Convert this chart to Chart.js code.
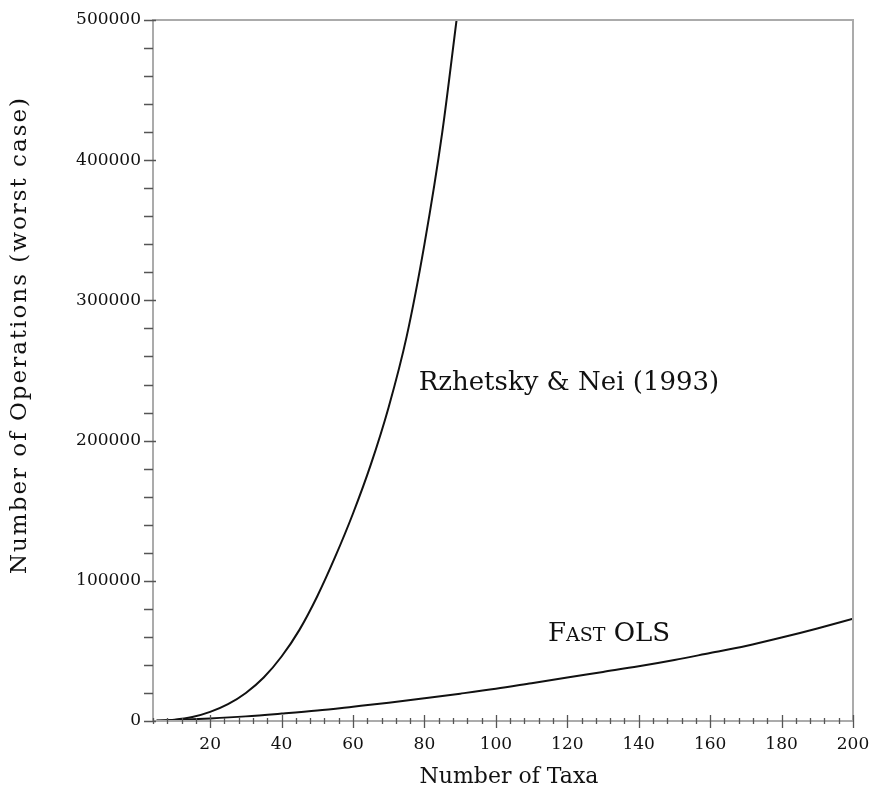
<!DOCTYPE html>
<html>
<head>
<meta charset="utf-8">
<script src="https://cdn.jsdelivr.net/npm/chart.js@4.4.0/dist/chart.umd.min.js"></script>
<style>
  html, body { margin: 0; padding: 0; background: #ffffff; }
  #wrap { width: 872px; height: 792px; }
</style>
</head>
<body>
<div id="wrap"><canvas id="chart" width="872" height="792"></canvas></div>
<script>
// Rzhetsky & Nei (1993), worst case operations
const taxaRN = [5, 10, 15, 20, 25, 30, 35, 40, 45, 50, 55, 60, 65, 70, 75, 80, 85, 89];
const opsRN = [200, 900, 2800, 6500, 12000, 20000, 31000, 46000, 65000, 89000, 117000, 148000, 183000, 224000, 274000, 340000, 420000, 500000];

// Fast OLS, worst case operations
const taxaOLS = [5, 10, 20, 30, 40, 50, 60, 70, 80, 90, 100, 110, 120, 130, 140, 150, 160, 170, 180, 190, 200];
const opsOLS = [300, 700, 1800, 3300, 5300, 7500, 10200, 13000, 16200, 19500, 23000, 27000, 31000, 35000, 39000, 43500, 48500, 53500, 59500, 66000, 73000];

const xTicks = [20, 40, 60, 80, 100, 120, 140, 160, 180, 200];
const yTicks = [0, 100000, 200000, 300000, 400000, 500000];
const xMinorStep = 4;
const yMinorStep = 20000;

const seriesNames = ['Rzhetsky & Nei (1993)', 'Fast OLS'];
const xTitle = 'Number of Taxa';
const yTitle = 'Number of Operations (worst case)';

const SERIF = '"DejaVu Serif", "Liberation Serif", serif';

function toPoints(xs, ys) {
    return xs.map((x, i) => ({ x: x, y: ys[i] }));
}

// frame, crossing ticks, axis titles and curve labels
const decorations = {
    id: 'decorations',
    afterDatasetsDraw(chart) {
        const ctx = chart.ctx;
        const area = chart.chartArea;
        const xs = chart.scales.x;
        const ys = chart.scales.y;

        ctx.save();
        // frame
        ctx.strokeStyle = '#ababab';
        ctx.lineWidth = 2;
        ctx.beginPath();
        ctx.moveTo(area.left, area.top);
        ctx.lineTo(area.right, area.top);
        ctx.lineTo(area.right, area.bottom);
        ctx.lineTo(area.left, area.bottom);
        ctx.closePath();
        ctx.stroke();

        // x ticks
        ctx.strokeStyle = '#555555';
        ctx.lineWidth = 1.3;
        ctx.beginPath();
        for (let v = xs.min; v <= xs.max; v += xMinorStep) {
            const px = Math.round(xs.getPixelForValue(v)) + 0.5;
            const major = xTicks.includes(v);
            ctx.moveTo(px, area.bottom - (major ? 6 : 3));
            ctx.lineTo(px, area.bottom + (major ? 7 : 3));
        }
        // y ticks
        for (let v = ys.min; v <= ys.max; v += yMinorStep) {
            const py = Math.round(ys.getPixelForValue(v)) + 0.5;
            const major = yTicks.includes(v);
            ctx.moveTo(area.left - 9, py);
            ctx.lineTo(area.left + (major ? 3 : 0), py);
        }
        ctx.stroke();

        ctx.fillStyle = '#111111';

        // axis titles
        ctx.textAlign = 'center';
        ctx.textBaseline = 'middle';
        ctx.font = '22px ' + SERIF;
        ctx.fillText(xTitle, (area.left + area.right) / 2 + 6, 777);

        ctx.save();
        ctx.translate(20, 335);
        ctx.rotate(-Math.PI / 2);
        ctx.font = '23px ' + SERIF;
        ctx.letterSpacing = '2px';
        ctx.fillText(yTitle, 0, 0);
        ctx.restore();

        // curve labels
        ctx.textBaseline = 'middle';
        ctx.textAlign = 'left';
        ctx.font = '26px ' + SERIF;
        ctx.fillText(seriesNames[0], xs.getPixelForValue(78.4), ys.getPixelForValue(241000));

        // small caps "Fast OLS"
        let lx = xs.getPixelForValue(114.6);
        const base = ys.getPixelForValue(63500) + 9;
        ctx.textBaseline = 'alphabetic';
        ctx.font = '26px ' + SERIF;
        ctx.fillText('F', lx, base);
        lx += ctx.measureText('F').width;
        ctx.font = '19px ' + SERIF;
        ctx.fillText('AST', lx, base);
        lx += ctx.measureText('AST').width;
        ctx.font = '26px ' + SERIF;
        ctx.fillText(' OLS', lx, base);
        ctx.restore();
    }
};

const ctx = document.getElementById('chart');

new Chart(ctx, {
    type: 'line',
    data: {
        datasets: [
            {
                label: seriesNames[0],
                data: toPoints(taxaRN, opsRN),
                borderColor: '#111111',
                borderWidth: 2,
                pointRadius: 0,
                cubicInterpolationMode: 'monotone',
                fill: false
            },
            {
                label: seriesNames[1],
                data: toPoints(taxaOLS, opsOLS),
                borderColor: '#111111',
                borderWidth: 2,
                pointRadius: 0,
                cubicInterpolationMode: 'monotone',
                fill: false
            }
        ]
    },
    options: {
        responsive: false,
        animation: false,
        layout: {
            padding: { top: 20, right: 19, left: 0, bottom: 0 }
        },
        plugins: {
            legend: { display: false },
            tooltip: { enabled: false }
        },
        scales: {
            x: {
                type: 'linear',
                min: 4,
                max: 200,
                afterBuildTicks: scale => {
                    scale.ticks = xTicks.map(v => ({ value: v }));
                },
                afterFit: scale => {
                    scale.height = 71;
                    scale.paddingLeft = 0;
                    scale.paddingRight = 0;
                },
                grid: { display: false, drawTicks: false },
                border: { display: false },
                ticks: {
                    padding: 13,
                    color: '#111111',
                    maxRotation: 0,
                    autoSkip: false,
                    font: { family: SERIF, size: 17 }
                },
                title: { display: false }
            },
            y: {
                type: 'linear',
                min: 0,
                max: 500000,
                afterBuildTicks: scale => {
                    scale.ticks = yTicks.map(v => ({ value: v }));
                },
                afterFit: scale => {
                    scale.width = 153;
                    scale.paddingTop = 0;
                    scale.paddingBottom = 0;
                },
                grid: { display: false, drawTicks: false },
                border: { display: false },
                ticks: {
                    padding: 12,
                    color: '#111111',
                    autoSkip: false,
                    font: { family: SERIF, size: 17 },
                    callback: v => String(v)
                },
                title: { display: false }
            }
        }
    },
    plugins: [decorations]
});
</script>
</body>
</html>
